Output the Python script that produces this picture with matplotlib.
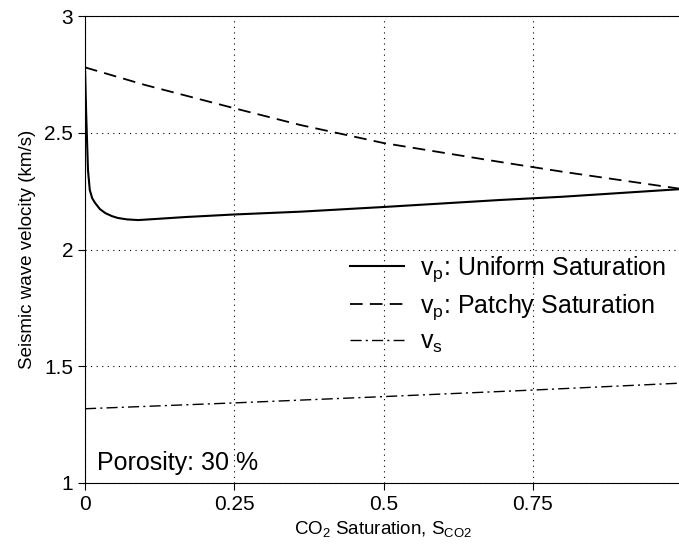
import matplotlib
matplotlib.use("Agg")
import matplotlib.pyplot as plt

plt.rcParams['font.family'] = ['Liberation Sans', 'DejaVu Sans']
plt.rcParams['mathtext.fontset'] = 'custom'
plt.rcParams['mathtext.rm'] = 'Liberation Sans'
plt.rcParams['mathtext.it'] = 'Liberation Sans'

# CO2 saturation vs. velocity (km/s)
s_uniform = [0, 0.002, 0.005, 0.008, 0.012, 0.017, 0.025, 0.034, 0.045, 0.055, 0.07, 0.089,
             0.12, 0.168, 0.25, 0.361, 0.5, 0.695, 0.8, 1.0]
vp_uniform = [2.78, 2.58, 2.34, 2.255, 2.22, 2.199, 2.173, 2.156, 2.143, 2.135, 2.129, 2.126,
              2.131, 2.139, 2.15, 2.162, 2.182, 2.212, 2.226, 2.259]

s_patchy = [0, 0.1, 0.25, 0.361, 0.5, 0.695, 0.8, 1.0]
vp_patchy = [2.78, 2.705, 2.605, 2.533, 2.456, 2.375, 2.333, 2.259]

s_shear = [0, 0.25, 0.5, 0.75, 1.0]
vs_shear = [1.318, 1.343, 1.37, 1.398, 1.428]

fig = plt.figure(figsize=(6.79, 5.56), dpi=100)
ax = fig.add_axes([85 / 679, 73 / 556, 597 / 679, 467 / 556])

ax.plot(s_uniform, vp_uniform, color='black', lw=1.5, ls='-',
        label=r'v$_\mathregular{p}$: Uniform Saturation')
ax.plot(s_patchy, vp_patchy, color='black', lw=1.3, ls=(0, (7, 4)),
        label=r'v$_\mathregular{p}$: Patchy Saturation')
ax.plot(s_shear, vs_shear, color='black', lw=1.0, ls=(0, (8, 3, 1.5, 3)),
        label=r'v$_\mathregular{s}$')

ax.set_xlim(0, 1)
ax.set_ylim(1, 3)
ax.set_xticks([0, 0.25, 0.5, 0.75])
ax.set_xticklabels(['0', '0.25', '0.5', '0.75'])
ax.set_yticks([1, 1.5, 2, 2.5, 3])
ax.set_yticklabels(['1', '1.5', '2', '2.5', '3'])
ax.tick_params(direction='out', length=5, labelsize=15, width=0.8)
ax.grid(True, ls=(0, (1, 4)), color='black', lw=0.8)
ax.spines['right'].set_visible(False)

ax.set_xlabel(r'CO$_\mathregular{2}$ Saturation, S$_\mathregular{CO2}$', fontsize=13.5, labelpad=4)
ax.set_ylabel('Seismic wave velocity (km/s)', fontsize=13.5, labelpad=6)

ax.text(0.02, 0.043, 'Porosity: 30 %', transform=ax.transAxes, fontsize=18,
        va='center', ha='left')

leg = ax.legend(loc='upper left', bbox_to_anchor=(0.444, 0.49), frameon=False,
                fontsize=18, handlelength=2.15, handletextpad=0.65, labelspacing=0.32,
                borderpad=0, borderaxespad=0)

fig.savefig('out.png', dpi=100)
